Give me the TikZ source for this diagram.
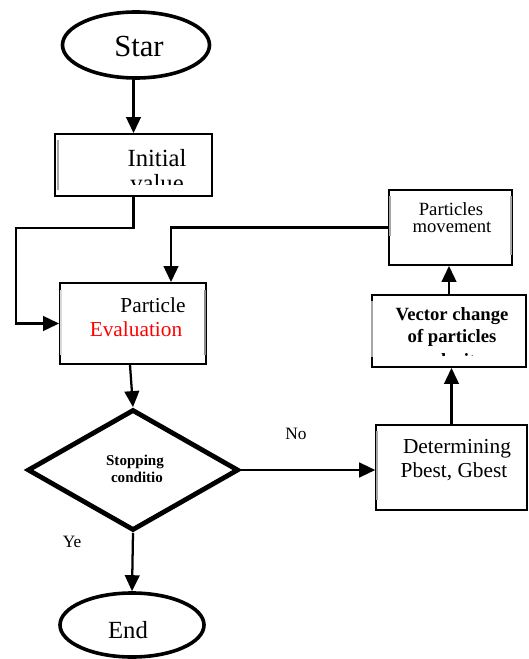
\documentclass[tikz,border=0pt]{standalone}
\usepackage{fontspec}
\setmainfont{Liberation Serif}
\usetikzlibrary{shapes.geometric,arrows.meta}
\begin{document}
\begin{tikzpicture}[x=0.75pt,y=-0.75pt,
  arr/.style={line width=1.7pt,-{Triangle[length=12pt,width=11pt]}},
  term/.style={ellipse,draw,line width=2.7pt,inner sep=0pt},
  procbox/.style={rectangle,draw,line width=1.4pt,inner sep=0pt},
  decis/.style={diamond,draw,line width=3.6pt,inner sep=0pt},
  shade/.style={line width=2pt,gray!70},
  lbl/.style={anchor=base,inner sep=0pt}]
\useasboundingbox (0,0) rectangle (528,659);
% shapes
\node[term,minimum width=110.25pt,minimum height=49.5pt] (start) at (136,45) {};
\node[procbox,minimum width=117.75pt,minimum height=46.5pt] (init) at (133.5,165) {};
\node[procbox,minimum width=109.5pt,minimum height=60.75pt] (eval) at (133,323.5) {};
\node[decis,minimum width=158.25pt,minimum height=90.75pt] (dia) at (133,470) {};
\node[procbox,minimum width=113pt,minimum height=63.75pt] (det) at (451.5,467.5) {};
\node[procbox,minimum width=116pt,minimum height=54pt] (vec) at (449,331) {};
\node[procbox,minimum width=92.25pt,minimum height=56.25pt] (move) at (450.5,227.5) {};
\node[term,minimum width=108pt,minimum height=48pt] (end) at (132,625) {};
% shading artefacts on box edges
\draw[shade] (58,140) -- (58,190);
\draw[shade,gray!30] (61,290) -- (61,355);
\draw[shade,gray!90] (205,290) -- (205,355);
\draw[shade] (390,196) -- (390,236);
\draw[shade] (511,196) -- (511,255);
\draw[shade] (372,301) -- (372,357);
\draw[shade] (377,431) -- (377,500);
% texts
\node[lbl,font=\fontsize{23}{27}\selectfont] (tstart) at (139,57) {Star};
\node[lbl,font=\fontsize{18.5}{22}\selectfont] (tinit) at (157,167) {Initial};
\begin{scope}
\clip (56,135) rectangle (211,185);
\node[lbl,font=\fontsize{18.5}{22}\selectfont] (tval) at (157,191) {value};
\end{scope}
\node[lbl,font=\fontsize{16}{19}\selectfont] (tpart) at (153,312) {Particle};
\node[lbl,font=\fontsize{16}{19}\selectfont,text=red] (tevl) at (136,336) {Evaluation};
\node[lbl,font=\fontsize{14}{17}\selectfont] (tmv1) at (451,215) {Particles};
\node[lbl,font=\fontsize{14}{17}\selectfont] (tmv2) at (452,232) {movement};
\node[lbl,font=\bfseries\fontsize{14}{17}\selectfont] (tvc1) at (452,320) {Vector change};
\node[lbl,font=\bfseries\fontsize{14}{17}\selectfont] (tvc2) at (452,342) {of particles};
\begin{scope}
\clip (372,296) rectangle (526,355);
\node[lbl,font=\bfseries\fontsize{14}{17}\selectfont] (tvc3) at (454,366) {velocity};
\end{scope}
\node[lbl,font=\fontsize{16}{19}\selectfont] (tdet1) at (457,453) {Determining};
\node[lbl,font=\fontsize{16}{19}\selectfont] (tdet2) at (454,477) {Pbest, Gbest};
\node[lbl,font=\bfseries\fontsize{11.3}{14}\selectfont] (tst1) at (135,465) {Stopping};
\node[lbl,font=\bfseries\fontsize{11.3}{14}\selectfont] (tst2) at (137,482) {conditio};
\node[lbl,font=\fontsize{13}{16}\selectfont] (tno) at (296,439) {No};
\node[lbl,font=\fontsize{13}{16}\selectfont] (tye) at (72,547) {Ye};
\node[lbl,font=\fontsize{18.5}{22}\selectfont] (tend) at (128,638) {End};
% connectors
\coordinate (l1) at (16,228);
\draw[arr] (start.south -| init.north) -- (init.north);
\draw[arr] (init.south) |- (l1) |- (eval.west);
\draw[arr] (move.west) -| ([xshift=28.5pt]eval.north);
\draw[arr] ([xshift=-2.25pt]eval.south) -- (dia.north);
\draw[arr] (dia.east) -- (dia.east -| det.west);
\draw[arr] (det.north) -- (det.north |- vec.south);
\draw[arr] (vec.north) -- (vec.north |- move.south);
\draw[arr] (dia.south) -- (end.north);
\end{tikzpicture}
\end{document}
